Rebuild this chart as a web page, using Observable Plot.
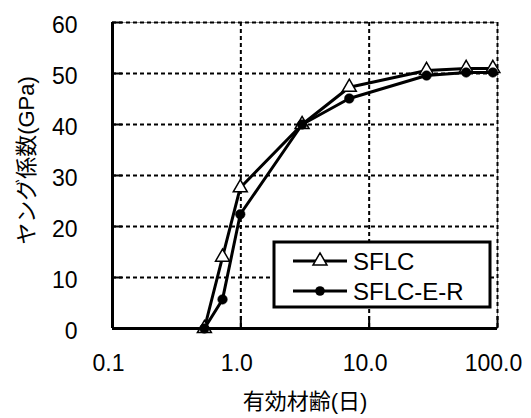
<!DOCTYPE html>
<html><head><meta charset="utf-8">
<script src="https://cdn.jsdelivr.net/npm/d3@7"></script>
<script src="https://cdn.jsdelivr.net/npm/@observablehq/plot@0.6"></script>
<style>
body{margin:0;background:#fff;}
#chart svg{display:block;}
</style>
</head><body><div id="chart"></div>
<script>
// ---- data ----
const seriesNames = ["SFLC", "SFLC-E-R"];
const daysSFLC = [0.52, 0.72, 0.99, 3.0, 7.0, 28, 57, 92];
const modSFLC  = [0, 14, 27.6, 40, 47.3, 50.6, 51, 51];
const daysSFLCER = [0.52, 0.72, 0.99, 3.0, 7.0, 28, 57, 92];
const modSFLCER  = [0, 5.7, 22.4, 40, 45.1, 49.6, 50.2, 50.2];
const xTicks = [0.1, 1, 10, 100];
const xTickLabels = ["0.1", "1.0", "10.0", "100.0"];
const yTicks = [0, 10, 20, 30, 40, 50, 60];
const xTitle = "有効材齢(日)";
const yTitle = "ヤング係数(GPa)";

const rowsA = daysSFLC.map((d, i) => ({d, v: modSFLC[i]}));
const rowsB = daysSFLCER.map((d, i) => ({d, v: modSFLCER[i]}));

const FONT = "'Liberation Sans', Arial, 'Noto Sans CJK JP', sans-serif";

function legend(index, scales, values, dim) {
  const g = d3.create("svg:g");
  const x0 = dim.width - dim.marginRight - 223, y0 = dim.marginTop + 220;
  const w = 216, h = 65;
  g.append("rect").attr("x", x0).attr("y", y0).attr("width", w).attr("height", h)
    .attr("fill", "white").attr("stroke", "black").attr("stroke-width", 3);
  seriesNames.forEach((name, i) => {
    const cy = y0 + 19 + i * 30;
    g.append("line").attr("x1", x0 + 19).attr("x2", x0 + 73).attr("y1", cy).attr("y2", cy)
      .attr("stroke", "black").attr("stroke-width", 3);
    if (i === 0) {
      const s = d3.symbol(d3.symbolTriangle, Math.PI * 5.2 * 5.2)();
      g.append("path").attr("d", s).attr("transform", `translate(${x0 + 46},${cy})`)
        .attr("fill", "white").attr("stroke", "black").attr("stroke-width", 1.5);
    } else {
      g.append("circle").attr("cx", x0 + 46).attr("cy", cy).attr("r", 4.8).attr("fill", "black");
    }
    g.append("text").attr("x", x0 + 79).attr("y", cy).attr("dy", "0.36em")
      .attr("text-anchor", "start")
      .style("font-size", "24px").attr("font-family", FONT).attr("fill", "black").text(name);
  });
  return g.node();
}

const chart = Plot.plot({
  width: 531,
  height: 418,
  marginLeft: 112,
  marginRight: 34,
  marginTop: 22,
  marginBottom: 90,
  style: {fontFamily: FONT, background: "white", color: "black"},
  x: {type: "log", domain: [0.1, 100]},
  y: {domain: [0, 60]},
  marks: [
    Plot.frame({stroke: "#999", strokeWidth: 1}),
    Plot.gridY(yTicks.filter(t => t > 0), {stroke: "black", strokeOpacity: 1, strokeWidth: 2, strokeDasharray: "4,3"}),
    Plot.gridX(xTicks.filter(t => t > 0.1), {stroke: "black", strokeOpacity: 1, strokeWidth: 2, strokeDasharray: "4,3"}),
    Plot.axisY(yTicks, {tickSize: 0, tickPadding: 35, fontSize: 23, dy: 3, label: null}),
    Plot.axisY(yTicks, {tickSize: -10, tickPadding: 0, text: null, strokeWidth: 2, label: null}),
    Plot.axisX(xTicks, {tickSize: 0, tickPadding: 26, fontSize: 23, dx: -4, tickFormat: d => xTickLabels[xTicks.indexOf(d)], label: null}),
    Plot.axisX(xTicks, {tickSize: -12, tickPadding: 0, text: null, strokeWidth: 2, label: null}),
    Plot.ruleX([0.1], {stroke: "black", strokeWidth: 3}),
    Plot.ruleY([0], {stroke: "black", strokeWidth: 3}),
    Plot.line(rowsA, {x: "d", y: "v", stroke: "black", strokeWidth: 3}),
    Plot.dot(rowsA, {x: "d", y: "v", symbol: "triangle", r: 5.2, fill: "white", stroke: "black", strokeWidth: 1.5}),
    Plot.line(rowsB, {x: "d", y: "v", stroke: "black", strokeWidth: 3}),
    Plot.dot(rowsB, {x: "d", y: "v", symbol: "circle", r: 4.8, fill: "black", stroke: "black", strokeWidth: 0.5}),
    Plot.text([xTitle], {frameAnchor: "bottom", dy: 80, text: d => d, fontSize: 22}),
    Plot.text([yTitle], {frameAnchor: "left", textAnchor: "middle", dx: -86, dy: -15, rotate: -90, text: d => d, fontSize: 22}),
    legend
  ]
});
document.getElementById("chart").appendChild(chart);
</script>
</body></html>
